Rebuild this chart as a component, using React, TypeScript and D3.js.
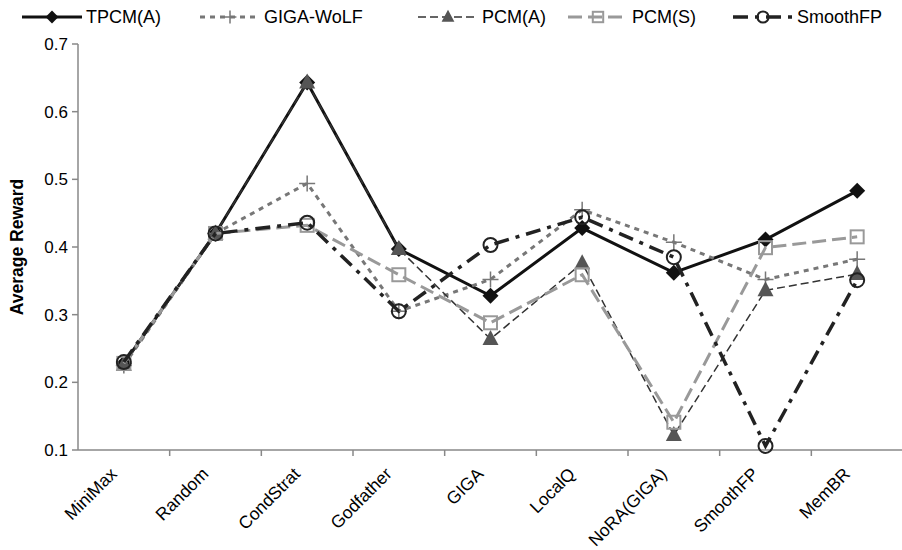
import React, { useEffect, useRef } from 'react';
import * as d3 from 'd3';

const categories = ['MiniMax', 'Random', 'CondStrat', 'Godfather', 'GIGA', 'LocalQ', 'NoRA(GIGA)', 'SmoothFP', 'MemBR'];
const tpcmA = [0.228, 0.42, 0.643, 0.397, 0.328, 0.428, 0.362, 0.411, 0.483];
const gigaWolf = [0.225, 0.42, 0.494, 0.305, 0.352, 0.455, 0.407, 0.352, 0.382];
const pcmA = [0.226, 0.42, 0.643, 0.397, 0.264, 0.376, 0.122, 0.336, 0.36];
const pcmS = [0.228, 0.42, 0.432, 0.359, 0.288, 0.359, 0.141, 0.399, 0.415];
const smoothFP = [0.23, 0.42, 0.436, 0.305, 0.403, 0.444, 0.385, 0.106, 0.351];
const yTicks = [0.1, 0.2, 0.3, 0.4, 0.5, 0.6, 0.7];

const series = [
  { name: 'TPCM(A)', values: tpcmA, color: '#111', width: 3, dash: null, marker: 'diamond', mColor: '#111' },
  { name: 'GIGA-WoLF', values: gigaWolf, color: '#777', width: 3, dash: '5,5', marker: 'plus', mColor: '#777' },
  { name: 'PCM(A)', values: pcmA, color: '#333', width: 1.5, dash: '8,4', marker: 'triangle', mColor: '#555' },
  { name: 'PCM(S)', values: pcmS, color: '#999', width: 3, dash: '14,6', marker: 'square', mColor: '#999' },
  { name: 'SmoothFP', values: smoothFP, color: '#222', width: 3.5, dash: '15,7,4,7', marker: 'circle', mColor: '#222' },
];

export default function App() {
  const ref = useRef<SVGSVGElement>(null);

  useEffect(() => {
    const width = 902;
    const margin = { top: 44, left: 78 };
    const svg = d3.select(ref.current);
    svg.selectAll('*').remove();

    // scales
    const x = d3.scaleBand().domain(categories).range([margin.left, 903]).padding(0);
    const y = d3.scaleLinear().domain([0.1, 0.7]).range([450, margin.top]);
    const cx = (c: string) => (x(c) as number) + x.bandwidth() / 2;
    const font = 'Liberation Sans, Arial, sans-serif';

    // y axis
    const yAxis = svg.append('g');
    yAxis.append('line').attr('x1', margin.left).attr('x2', margin.left)
      .attr('y1', y(0.7)).attr('y2', y(0.1)).attr('stroke', '#888').attr('stroke-width', 1.5);
    yAxis.selectAll('.t').data(yTicks).enter().append('line')
      .attr('x1', margin.left - 6).attr('x2', margin.left)
      .attr('y1', d => y(d)).attr('y2', d => y(d)).attr('stroke', '#888').attr('stroke-width', 1.5);
    yAxis.selectAll('text').data(yTicks).enter().append('text')
      .attr('x', margin.left - 10).attr('y', d => y(d)).attr('dy', '0.35em')
      .attr('text-anchor', 'end').attr('font-family', font).attr('font-size', 17)
      .text(d => d3.format('.1f')(d));

    svg.append('text')
      .attr('transform', `translate(23,${(y(0.1) + y(0.7)) / 2}) rotate(-90)`)
      .attr('text-anchor', 'middle').attr('font-family', font).attr('font-size', 17.5)
      .attr('font-weight', 'bold').text('Average Reward');

    // x axis
    const xAxis = svg.append('g');
    xAxis.append('line').attr('x1', margin.left).attr('x2', width)
      .attr('y1', y(0.1)).attr('y2', y(0.1)).attr('stroke', '#888').attr('stroke-width', 1.5);
    xAxis.selectAll('.t').data(categories.slice(1)).enter().append('line')
      .attr('x1', d => x(d) as number).attr('x2', d => x(d) as number)
      .attr('y1', y(0.1)).attr('y2', y(0.1) + 6).attr('stroke', '#888').attr('stroke-width', 1.5);
    xAxis.selectAll('text').data(categories).enter().append('text')
      .attr('transform', d => `translate(${cx(d) - 6},${y(0.1) + 25}) rotate(-45)`)
      .attr('text-anchor', 'end').attr('font-family', font).attr('font-size', 17.5)
      .text(d => d);

    // markers
    const drawMarker = (g: any, type: string, px: number, py: number, col: string, s = 1) => {
      if (type === 'diamond') {
        g.append('path').attr('d', `M${px},${py - 8 * s}L${px + 8 * s},${py}L${px},${py + 8 * s}L${px - 8 * s},${py}Z`).attr('fill', col);
      } else if (type === 'plus') {
        g.append('path').attr('d', `M${px - 8 * s},${py}H${px + 8 * s}M${px},${py - 8 * s}V${py + 8 * s}`)
          .attr('stroke', col).attr('stroke-width', 1.5).attr('fill', 'none');
      } else if (type === 'triangle') {
        g.append('path').attr('d', `M${px},${py - 9 * s}L${px + 8 * s},${py + 6 * s}L${px - 8 * s},${py + 6 * s}Z`).attr('fill', col);
      } else if (type === 'square') {
        g.append('rect').attr('x', px - 6.5 * s).attr('y', py - 6.5 * s).attr('width', 13 * s).attr('height', 13 * s)
          .attr('fill', 'none').attr('stroke', col).attr('stroke-width', 2);
      } else if (type === 'circle') {
        g.append('circle').attr('cx', px).attr('cy', py).attr('r', 7 * s)
          .attr('fill', 'none').attr('stroke', col).attr('stroke-width', 2);
      }
    };

    const line = d3.line<number>().x((_, i) => cx(categories[i])).y(d => y(d));

    series.forEach(s => {
      const g = svg.append('g');
      g.append('path').attr('d', line(s.values) as string).attr('fill', 'none')
        .attr('stroke', s.color).attr('stroke-width', s.width)
        .attr('stroke-dasharray', s.dash);
      s.values.forEach((v, i) => drawMarker(g, s.marker, cx(categories[i]), y(v), s.mColor));
    });

    // legend
    const legendX = [22, 200, 418, 568, 733];
    series.forEach((s, i) => {
      const g = svg.append('g');
      const lx = legendX[i], ly = 17;
      g.append('line').attr('x1', lx).attr('x2', lx + 60).attr('y1', ly).attr('y2', ly)
        .attr('stroke', s.color).attr('stroke-width', s.width).attr('stroke-dasharray', s.dash);
      drawMarker(g, s.marker, lx + 30, ly, s.mColor, 0.8);
      g.append('text').attr('x', lx + 64).attr('y', ly).attr('dy', '0.35em')
        .attr('font-family', font).attr('font-size', 18).text(s.name);
    });
  }, []);

  return (
    <svg ref={ref} width={902} height={550}
      style={{ position: 'absolute', left: 0, top: 0, background: '#fff' }} />
  );
}
